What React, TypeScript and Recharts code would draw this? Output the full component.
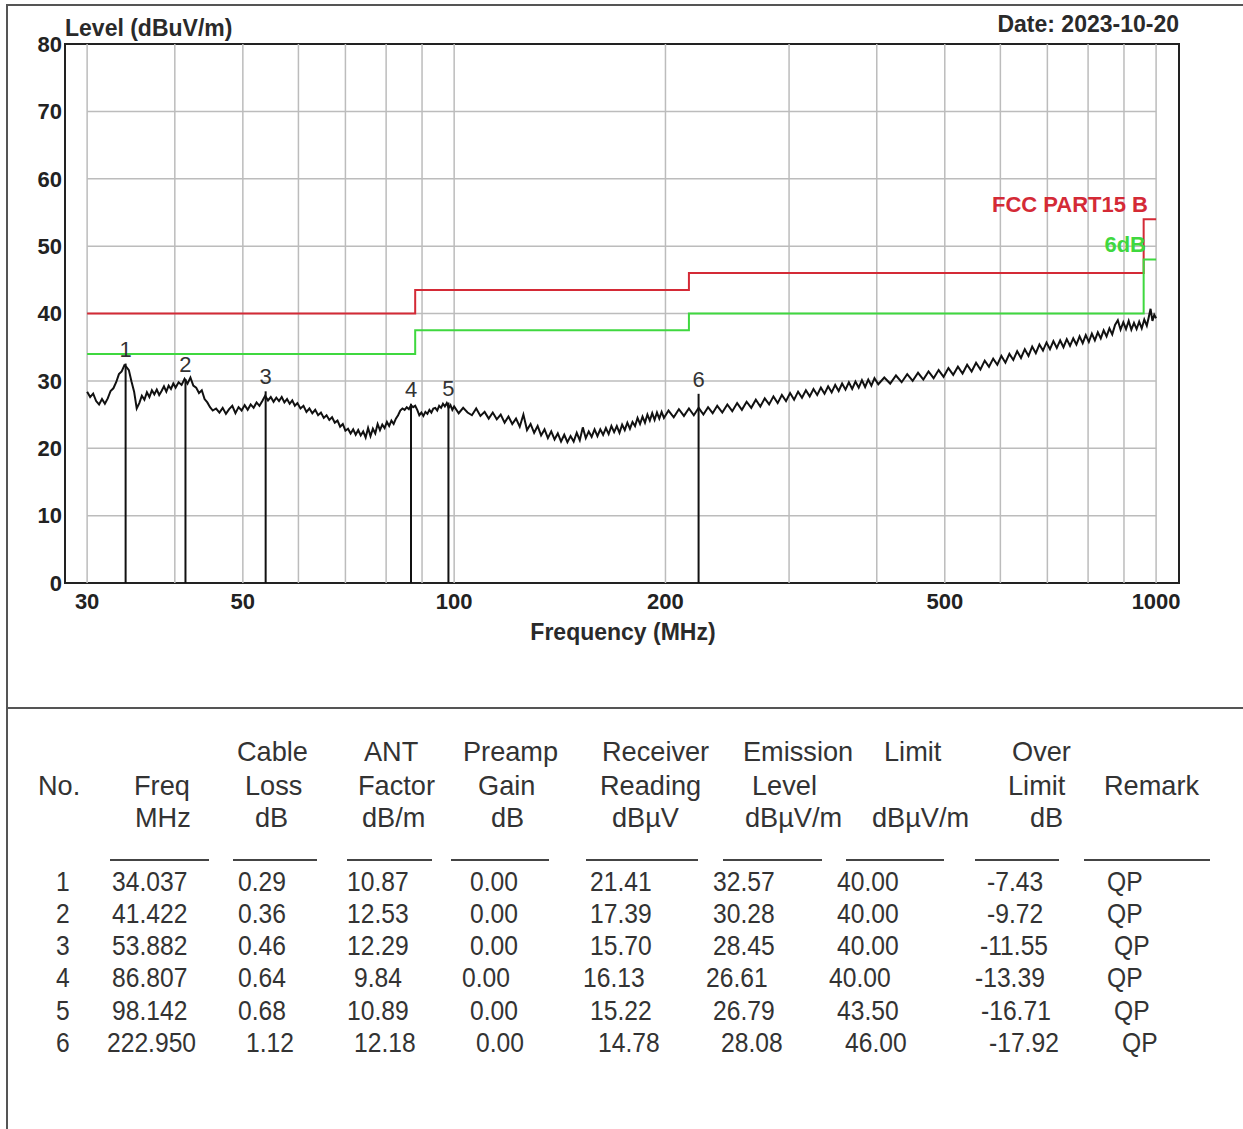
import {
  ComposedChart,
  Line,
  XAxis,
  YAxis,
  ReferenceLine,
  ReferenceArea,
  ReferenceDot,
} from 'recharts'

const FONT = '"Liberation Sans", Arial, sans-serif'

// axes (MHz, dBuV/m)
const FREQ_DOMAIN = [27.9, 1078]
const FREQ_TICKS = [30, 50, 100, 200, 500, 1000]
const FREQ_GRID = [30, 40, 50, 60, 70, 80, 90, 100, 200, 300, 400, 500, 600, 700, 800, 900, 1000]
const LEVEL_TICKS = [0, 10, 20, 30, 40, 50, 60, 70, 80]
const LEVEL_GRID = [10, 20, 30, 40, 50, 60, 70]

// FCC Part 15 B limit and the -6dB margin, step-after breakpoints
const LIMIT_FREQ = [30, 88, 216, 960, 1000]
const LIMIT_LEVEL = [40, 43.5, 46, 54, 54]
const MARGIN_LEVEL = [34, 37.5, 40, 48, 48]

const TRACE: [number, number][] = [
  [30.0, 28.4], [30.3, 27.6], [30.6, 28.1], [30.9, 27.0], [31.2, 26.5], [31.5, 27.3],
  [31.8, 26.6], [32.1, 27.4], [32.4, 28.5], [32.7, 28.9], [33.0, 29.8], [33.3, 31.0],
  [33.6, 31.4], [33.9, 32.3], [34.1, 32.1], [34.4, 31.6], [34.7, 29.9], [35.0, 28.4],
  [35.3, 25.9], [35.6, 26.7], [35.9, 27.8], [36.2, 27.2], [36.5, 28.3], [36.8, 27.6],
  [37.1, 28.6], [37.4, 28.0], [37.7, 28.7], [38.0, 27.9], [38.3, 28.5], [38.6, 29.2],
  [38.9, 28.4], [39.2, 29.3], [39.5, 28.8], [39.8, 29.6], [40.1, 29.0],
  [40.5, 29.8], [40.9, 29.4], [41.3, 30.3], [41.7, 29.6], [42.1, 30.5], [42.5, 29.3],
  [42.9, 29.0], [43.3, 28.2], [43.7, 28.6], [44.1, 27.3], [44.5, 26.8], [44.9, 26.1],
  [45.3, 25.6], [45.8, 25.9], [46.3, 25.3], [46.8, 26.0], [47.3, 25.1], [47.8, 25.8],
  [48.3, 26.3], [48.8, 25.2], [49.3, 26.1], [49.8, 25.6], [50.3, 26.4], [50.8, 25.7],
  [51.3, 26.5], [51.8, 26.0], [52.3, 26.8], [52.8, 26.3], [53.3, 27.0], [53.8, 27.8],
  [54.3, 27.1], [54.8, 27.6], [55.3, 26.9], [55.8, 27.5], [56.3, 27.0], [56.8, 27.6],
  [57.3, 26.8], [57.8, 27.3], [58.3, 26.6], [58.8, 27.1], [59.3, 26.3], [59.8, 26.7],
  [60.4, 25.9], [61.0, 26.3], [61.6, 25.4], [62.2, 25.9], [62.8, 25.2], [63.4, 25.7],
  [64.0, 24.9], [64.6, 25.3], [65.2, 24.5], [65.8, 24.9], [66.4, 24.2], [67.0, 24.6],
  [67.6, 23.8], [68.2, 24.1], [68.8, 23.2], [69.4, 23.6], [70.0, 22.6], [70.6, 22.9],
  [71.2, 22.2], [71.8, 22.8], [72.4, 22.0], [73.0, 22.7], [73.6, 21.9], [74.2, 22.5],
  [74.8, 21.6], [75.4, 23.0], [76.0, 21.8], [76.6, 22.9], [77.2, 22.2], [77.8, 23.6],
  [78.4, 22.7], [79.0, 23.5], [79.6, 23.0], [80.2, 23.9], [80.8, 23.3], [81.4, 24.1],
  [82.0, 23.6], [82.6, 24.4], [83.2, 24.9], [83.8, 25.6], [84.4, 25.9], [85.0, 25.7],
  [85.6, 26.1], [86.2, 25.8], [86.8, 26.4], [87.4, 26.1], [88.0, 26.3], [88.6, 25.7],
  [89.2, 24.9], [89.8, 25.3], [90.4, 24.8], [91.0, 25.4], [91.6, 25.1], [92.2, 25.7],
  [92.8, 25.3], [93.4, 25.9], [94.0, 26.0], [94.6, 25.6], [95.2, 26.3], [95.8, 26.0],
  [96.4, 26.6], [97.0, 26.2], [97.6, 26.7], [98.2, 26.0], [98.8, 26.4], [99.4, 25.7],
  [100, 26.2], [101.5, 25.2], [103, 26.0], [104.5, 25.3], [106, 24.9], [107.5, 25.9],
  [109, 24.8], [110.5, 25.4], [112, 24.4], [113.5, 25.3], [115, 24.3], [116.5, 25.0],
  [118, 23.8], [119.5, 24.7], [121, 23.6], [122.5, 24.4], [124, 23.2], [125.5, 25.0],
  [127, 22.7], [128.5, 23.6], [130, 22.3], [131.5, 23.3], [133, 21.9], [134.5, 22.8],
  [136, 21.5], [137.5, 22.5], [139, 21.3], [140.5, 22.2], [142, 21.0], [143.5, 22.0],
  [145, 20.9], [146.5, 21.8], [148, 21.0], [149.5, 22.3], [151, 21.2], [152.5, 23.1],
  [154, 21.5], [155.5, 22.5], [157, 21.7], [158.5, 22.8], [160, 21.8], [161.5, 22.8],
  [163, 22.0], [164.5, 23.0], [166, 22.1], [167.5, 23.3], [169, 22.4], [170.5, 23.3],
  [172, 22.3], [173.5, 23.5], [175, 22.7], [176.5, 23.8], [178, 22.9], [179.5, 23.9],
  [181, 23.3], [182.5, 24.5], [184, 23.6], [185.5, 24.7], [187, 23.8], [188.5, 25.0],
  [190, 24.1], [191.5, 25.2], [193, 24.2], [194.5, 25.3], [196, 24.4], [197.5, 25.4],
  [199, 24.5],
  [202, 25.6], [205.5, 24.6], [209, 25.8], [212.5, 24.8], [216, 25.9], [219.5, 24.9],
  [223, 26.0], [226.5, 25.0], [230, 26.1], [233.5, 25.2], [237, 26.3], [241, 25.3],
  [245, 26.5], [249, 25.5], [253, 26.7], [257, 25.7], [261, 26.9], [265, 26.0],
  [269, 27.2], [273, 26.2], [277, 27.4], [281, 26.5], [285, 27.7], [289, 26.7],
  [293, 27.9], [297, 27.0], [301, 28.2], [305, 27.2], [309, 28.4], [313, 27.5],
  [317, 28.6], [321, 27.7], [325, 28.8], [329, 27.9], [333, 29.0], [337, 28.1],
  [341, 29.2], [345, 28.3], [349, 29.4], [353, 28.5], [357, 29.6], [361, 28.7],
  [365, 29.8], [369, 28.8], [373, 29.9], [377, 29.0], [381, 30.1], [385, 29.1],
  [389, 30.2], [393, 29.3], [397, 30.4],
  [402, 29.5], [410, 30.5], [418, 29.6], [426, 30.8], [434, 29.8], [442, 31.0],
  [450, 30.0], [458, 31.2], [466, 30.2], [474, 31.4], [482, 30.4], [490, 31.6],
  [498, 30.6], [506, 31.9], [514, 30.9], [522, 32.1], [530, 31.1], [538, 32.4],
  [546, 31.4], [554, 32.7], [562, 31.7], [570, 33.0], [578, 32.1], [586, 33.3],
  [594, 32.4], [602, 33.7], [610, 32.7], [618, 34.0], [626, 33.1], [634, 34.4],
  [642, 33.4], [650, 34.7], [658, 33.7], [666, 35.1], [674, 34.1], [682, 35.4],
  [690, 34.5], [698, 35.7], [706, 34.7], [714, 35.9], [722, 34.9], [730, 36.0],
  [738, 35.0], [746, 36.2], [754, 35.2], [762, 36.3], [770, 35.4], [778, 36.6],
  [786, 35.6], [794, 36.8], [802, 35.8], [810, 37.0], [818, 36.0], [826, 37.2],
  [834, 36.3], [842, 37.5], [850, 36.6], [858, 37.8], [866, 36.9], [874, 38.3],
  [882, 39.0], [890, 37.6], [898, 38.7], [906, 37.7], [914, 38.9], [922, 37.6],
  [930, 38.6], [938, 37.7], [946, 38.8], [954, 37.8], [962, 39.1], [970, 38.2],
  [976, 39.4], [982, 40.7], [988, 38.9], [994, 39.8], [1000, 39.3],
]

// result table
const NO = ['1', '2', '3', '4', '5', '6']
const FREQ = ['34.037', '41.422', '53.882', '86.807', '98.142', '222.950']
const CABLE_LOSS = ['0.29', '0.36', '0.46', '0.64', '0.68', '1.12']
const ANT_FACTOR = ['10.87', '12.53', '12.29', '9.84', '10.89', '12.18']
const PREAMP_GAIN = ['0.00', '0.00', '0.00', '0.00', '0.00', '0.00']
const READING = ['21.41', '17.39', '15.70', '16.13', '15.22', '14.78']
const EMISSION = ['32.57', '30.28', '28.45', '26.61', '26.79', '28.08']
const LIMIT = ['40.00', '40.00', '40.00', '40.00', '43.50', '46.00']
const OVER_LIMIT = ['-7.43', '-9.72', '-11.55', '-13.39', '-16.71', '-17.92']
const REMARK = ['QP', 'QP', 'QP', 'QP', 'QP', 'QP']

const COLUMNS = [NO, FREQ, CABLE_LOSS, ANT_FACTOR, PREAMP_GAIN, READING, EMISSION, LIMIT, OVER_LIMIT, REMARK]

// header text, one list per header line: [text, left]
const HEADER: [string, number][][] = [
  [['Cable', 237], ['ANT', 364], ['Preamp', 463], ['Receiver', 602], ['Emission', 743], ['Limit', 884], ['Over', 1012]],
  [['No.', 38], ['Freq', 134], ['Loss', 245], ['Factor', 358], ['Gain', 478], ['Reading', 600], ['Level', 752], ['Limit', 1008], ['Remark', 1104]],
  [['MHz', 135], ['dB', 255], ['dB/m', 362], ['dB', 491], ['dB\u00b5V', 612], ['dB\u00b5V/m', 745], ['dB\u00b5V/m', 872], ['dB', 1030]],
]
const HEADER_Y = [752, 786, 818]
const RULES: [number, number][] = [[110, 209], [233, 317], [347, 432], [451, 549], [586, 698], [723, 822], [846, 944], [975, 1059], [1084, 1210]]
const ROW_Y = [882, 914, 946, 978, 1011, 1043]
// the printout's columns drift a little from row to row
const CELL_X = [
  [56, 112, 238, 347, 470, 590, 713, 837, 987, 1107],
  [56, 112, 238, 347, 470, 590, 713, 837, 987, 1107],
  [56, 112, 238, 347, 470, 590, 713, 837, 980, 1114],
  [56, 112, 238, 354, 462, 583, 706, 829, 975, 1107],
  [56, 112, 238, 347, 470, 590, 713, 837, 981, 1114],
  [56, 107, 246, 354, 476, 598, 721, 845, 989, 1122],
]

const RED = '#d42a36'
const GREEN = '#3fd83f'
const GRID = '#bcbcbc'
const INK = '#222'

const traceData = TRACE.map(([freq, level]) => ({ freq, level }))
const limitData = LIMIT_FREQ.map((freq, i) => ({ freq, level: LIMIT_LEVEL[i] }))
const marginData = LIMIT_FREQ.map((freq, i) => ({ freq, level: MARGIN_LEVEL[i] }))
const markers = NO.map((no, i) => ({ no, freq: parseFloat(FREQ[i]), level: parseFloat(EMISSION[i]) }))

const TICK = { fontSize: 22, fontWeight: 700, fill: INK, fontFamily: FONT }

function Txt({ x, y, children, scale = 1, style }: { x: number; y: number; children: string; scale?: number; style?: any }) {
  return (
    <div
      style={{
        position: 'absolute',
        left: x,
        top: y,
        lineHeight: 1,
        whiteSpace: 'nowrap',
        transform: `translateY(-50%) scaleX(${scale})`,
        transformOrigin: 'left center',
        ...style,
      }}
    >
      {children}
    </div>
  )
}

function Plot() {
  return (
    <ComposedChart
      width={1243}
      height={700}
      margin={{ top: 44, right: 64, left: 5, bottom: 87 }}
      style={{ fontFamily: FONT }}
    >
      <XAxis
        dataKey="freq"
        type="number"
        scale="log"
        domain={FREQ_DOMAIN}
        allowDataOverflow
        ticks={FREQ_TICKS}
        tick={TICK}
        tickLine={false}
        axisLine={false}
        tickMargin={4}
        height={30}
      />
      <YAxis
        type="number"
        domain={[0, 80]}
        ticks={LEVEL_TICKS}
        tick={TICK}
        tickLine={false}
        axisLine={false}
        tickSize={0}
        tickMargin={3}
        width={60}
        interval={0}
      />
      {FREQ_GRID.map((f) => (
        <ReferenceLine key={`v${f}`} segment={[{ x: f, y: 0 }, { x: f, y: 80 }]} stroke={GRID} strokeWidth={1.5} />
      ))}
      {LEVEL_GRID.map((v) => (
        <ReferenceLine key={`h${v}`} segment={[{ x: 30, y: v }, { x: 1000, y: v }]} stroke={GRID} strokeWidth={1.5} />
      ))}
      <Line data={limitData} dataKey="level" type="stepAfter" stroke={RED} strokeWidth={2} dot={false} isAnimationActive={false} />
      <Line data={marginData} dataKey="level" type="stepAfter" stroke={GREEN} strokeWidth={2} dot={false} isAnimationActive={false} />
      <Line data={traceData} dataKey="level" type="linear" stroke="#111" strokeWidth={2} dot={false} isAnimationActive={false} />
      {markers.map((m) => (
        <ReferenceLine key={`m${m.no}`} segment={[{ x: m.freq, y: 0 }, { x: m.freq, y: m.level }]} stroke="#111" strokeWidth={2} />
      ))}
      {markers.map((m) => (
        <ReferenceDot
          key={`l${m.no}`}
          x={m.freq}
          y={m.level}
          r={0}
          fill="none"
          stroke="none"
          label={{ value: m.no, position: 'top', offset: 7, fill: '#333', fontSize: 22, fontFamily: FONT }}
        />
      ))}
      <ReferenceArea x1={FREQ_DOMAIN[0]} x2={FREQ_DOMAIN[1]} y1={0} y2={80} fill="none" stroke={INK} strokeWidth={2} strokeOpacity={1} fillOpacity={0} />
    </ComposedChart>
  )
}

export default function App() {
  const bold = { fontSize: 23, fontWeight: 700, color: '#2a2a2a' }
  const cell = { fontSize: 28, color: '#333' }
  return (
    <div style={{ position: 'relative', width: 1243, height: 1129, fontFamily: FONT, background: '#fff', overflow: 'hidden' }}>
      <style>{'body{margin:0}'}</style>
      <div style={{ position: 'absolute', left: 6, top: 4, right: -10, bottom: -10, borderTop: '2px solid #555', borderLeft: '2px solid #555' }} />
      <div style={{ position: 'absolute', left: 6, top: 707, width: 1237, height: 2, background: '#555' }} />

      <div style={{ position: 'absolute', left: 0, top: 0 }}>
        <Plot />
      </div>

      <Txt x={65} y={28} style={bold}>Level (dBuV/m)</Txt>
      <div style={{ position: 'absolute', right: 1243 - 1179, top: 13, lineHeight: 1, ...bold }}>Date: 2023-10-20</div>
      <div style={{ position: 'absolute', left: 0, width: 1246, top: 621, textAlign: 'center', lineHeight: 1, ...bold }}>
        Frequency (MHz)
      </div>
      <div style={{ position: 'absolute', right: 1243 - 1148, top: 194, lineHeight: 1, fontSize: 22, fontWeight: 700, color: RED }}>FCC PART15 B</div>
      <div style={{ position: 'absolute', right: 1243 - 1146, top: 234, lineHeight: 1, fontSize: 22, fontWeight: 700, color: GREEN }}>6dB</div>

      {HEADER.map((line, li) =>
        line.map(([t, x], i) => (
          <Txt key={`h${li}-${i}`} x={x} y={HEADER_Y[li]} scale={0.97} style={cell}>
            {t}
          </Txt>
        )),
      )}
      {RULES.map(([a, b]) => (
        <div key={a} style={{ position: 'absolute', left: a, top: 859, width: b - a, height: 2, background: '#444' }} />
      ))}
      {ROW_Y.map((y, r) =>
        COLUMNS.map((col, c) => (
          <Txt key={`c${r}-${c}`} x={CELL_X[r][c]} y={y} scale={0.88} style={cell}>
            {col[r]}
          </Txt>
        )),
      )}
    </div>
  )
}
